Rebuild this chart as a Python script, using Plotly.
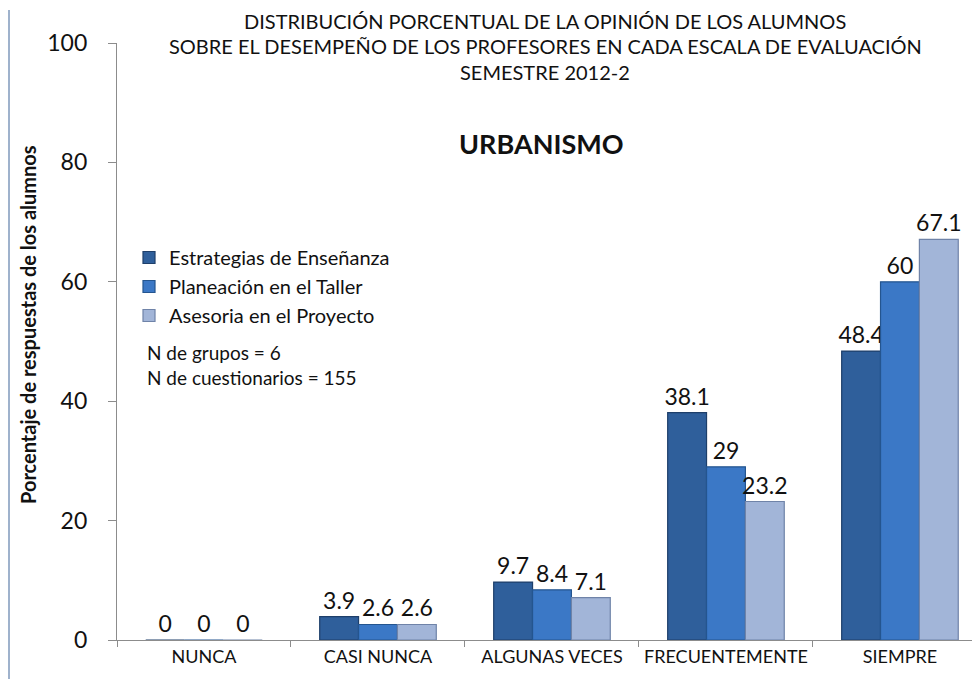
import plotly.graph_objects as go

categories = ["NUNCA", "CASI NUNCA", "ALGUNAS VECES", "FRECUENTEMENTE", "SIEMPRE"]
series_names = ["Estrategias de Enseñanza", "Planeación en el Taller", "Asesoria en el Proyecto"]
estrategias = [0, 3.9, 9.7, 38.1, 48.4]
planeacion = [0, 2.6, 8.4, 29, 60]
asesoria = [0, 2.6, 7.1, 23.2, 67.1]
y_ticks = [0, 20, 40, 60, 80, 100]

colors = ["#2F5F9B", "#3B78C6", "#A2B5D8"]
edges = ["#1E3F6A", "#24558F", "#6F83A8"]

FONT = "Lato"

fig = go.Figure()
for name, vals, c, e in zip(series_names, [estrategias, planeacion, asesoria], colors, edges):
    fig.add_trace(go.Bar(
        x=categories, y=vals, name=name,
        marker=dict(color=c, line=dict(color=e, width=1.2)),
        text=[f"{v:g}" for v in vals], textposition="outside",
        textfont=dict(size=23, color="#111111", family=FONT),
        constraintext="none",
        cliponaxis=False,
    ))

# page body has an 8px margin; work in figure coordinates (reference - 8)
W, H = 972, 671
L, R, T, B = 109, 0, 35, 39
pw = W - L - R
ph = H - T - B

def px_x(x):
    return (x - L) / pw

def px_y(y):
    return (H - B - y) / ph

fig.update_layout(
    width=W, height=H,
    margin=dict(l=L, r=R, t=T, b=B),
    paper_bgcolor="white", plot_bgcolor="white",
    barmode="group", bargap=0.33, bargroupgap=0,
    font=dict(family=FONT, color="#111111"),
    legend=dict(x=px_x(121), y=px_y(230), xanchor="left", yanchor="top",
                font=dict(size=20, family=FONT, color="#111111"),
                bgcolor="rgba(0,0,0,0)", tracegroupgap=0),
    xaxis=dict(type="category", range=[-0.5, 4.46], tickson="boundaries",
               ticks="outside", ticklen=6, tickcolor="#8c8c8c",
               showline=True, linecolor="#8c8c8c", linewidth=1.3,
               showgrid=False, tickfont=dict(size=18, family=FONT, color="#111111")),
    yaxis=dict(range=[0, 100], tickvals=y_ticks, ticks="outside", ticklen=8,
               tickcolor="#8c8c8c", showline=True, linecolor="#8c8c8c", linewidth=1.3,
               showgrid=False, zeroline=False, ticklabelstandoff=16,
               tickfont=dict(size=23, family=FONT, color="#111111")),
    shapes=[dict(type="line", xref="paper", yref="paper",
                 x0=px_x(1), x1=px_x(1), y0=px_y(H), y1=px_y(2),
                 line=dict(color="#9FB2CC", width=2))],
)

title_lines = [
    "DISTRIBUCIÓN PORCENTUAL DE LA OPINIÓN DE LOS ALUMNOS",
    "SOBRE EL DESEMPEÑO DE LOS PROFESORES EN CADA ESCALA DE EVALUACIÓN",
    "SEMESTRE 2012-2",
]
fig.add_annotation(text=title_lines[0], xref="paper", yref="paper",
                   x=px_x(537), y=px_y(0), xanchor="center", yanchor="top", borderpad=0,
                   showarrow=False, font=dict(size=20, family=FONT, color="#111111"))
for line, yc in zip(title_lines[1:], [38, 64]):
    fig.add_annotation(text=line, xref="paper", yref="paper",
                       x=px_x(537), y=px_y(yc), xanchor="center", yanchor="middle",
                       showarrow=False, font=dict(size=20, family=FONT, color="#111111"))
fig.add_annotation(text="<b>URBANISMO</b>", xref="paper", yref="paper",
                   x=px_x(533), y=px_y(135), xanchor="center", yanchor="middle",
                   showarrow=False, font=dict(size=27, family=FONT, color="#111111"))
fig.add_annotation(text="<b>Porcentaje de respuestas de los alumnos</b>", xref="paper", yref="paper",
                   x=px_x(20), y=px_y(317), xanchor="center", yanchor="middle", textangle=-90,
                   showarrow=False, font=dict(size=20, family=FONT, color="#111111"))
for txt, yc in [("N de grupos = 6", 344), ("N de cuestionarios = 155", 369)]:
    fig.add_annotation(text=txt, xref="paper", yref="paper",
                       x=px_x(137), y=px_y(yc), xanchor="left", yanchor="middle",
                       showarrow=False, font=dict(size=19, family=FONT, color="#111111"))

fig.write_html("out.html")
